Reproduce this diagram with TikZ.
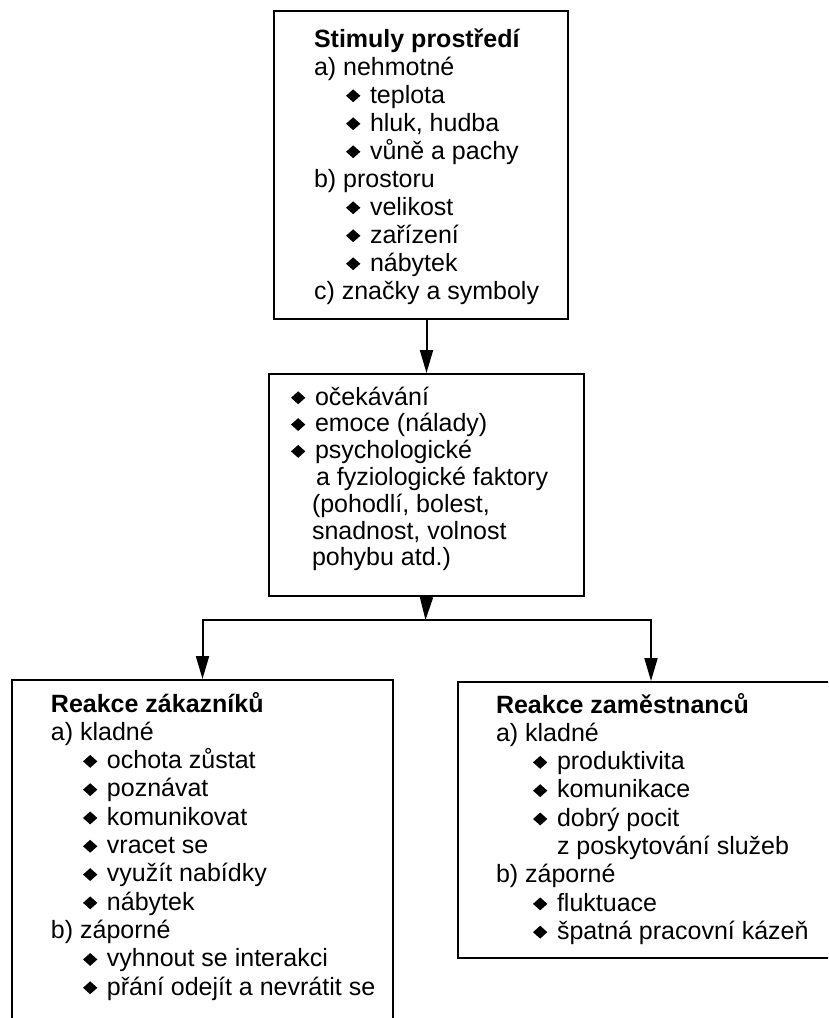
\documentclass[tikz,border=0pt]{standalone}
\usepackage{fontspec}
\setmainfont{Liberation Sans}
\usetikzlibrary{arrows.meta}
\newcommand\dmd{\raisebox{0.8pt}{\scalebox{1.45}[1.3]{\rotatebox{45}{\rule{7pt}{7pt}}}}}
\newcommand\bi[1]{\hspace*{#1}\makebox[24pt][l]{\dmd}}
\newcommand\ind[1]{\hspace*{#1}}
\newcommand\boxsetup[1]{\fontsize{25pt}{#1}\selectfont\lineskiplimit=-100pt\lineskip=0pt\parindent=0pt\raggedright}
\tikzset{
  boxnode/.style={draw, line width=2pt, inner sep=0pt, anchor=north west},
  arr/.style={line width=2pt, -{Triangle[length=23pt,width=13pt]}},
  conn/.style={line width=2pt}
}
\begin{document}
\begin{tikzpicture}[x=1pt,y=-1pt]
\useasboundingbox (0,0) rectangle (828,1018);
\clip (0,0) rectangle (828,1018);
\node[boxnode] (b1) at (273,10) {\begin{minipage}[t][308pt][t]{294pt}\boxsetup{28pt}%
\rule{0pt}{36pt}\ind{40pt}\textbf{Stimuly prostředí}\\
\ind{40pt}a) nehmotné\\
\bi{72pt}teplota\\
\bi{72pt}hluk, hudba\\
\bi{72pt}vůně a pachy\\
\ind{40pt}b) prostoru\\
\bi{72pt}velikost\\
\bi{72pt}zařízení\\
\bi{72pt}nábytek\\
\ind{40pt}c) značky a symboly
\end{minipage}};
\node[boxnode] (b2) at (268,373) {\begin{minipage}[t][222pt][t]{315pt}\boxsetup{26.8pt}%
\rule{0pt}{31pt}\bi{22pt}očekávání\\
\bi{22pt}emoce (nálady)\\
\bi{22pt}psychologické\\
\ind{47pt}a fyziologické faktory\\
\ind{43pt}(pohodlí, bolest,\\
\ind{43pt}snadnost, volnost\\
\ind{43pt}pohybu atd.)
\end{minipage}};
\node[boxnode] (b3) at (11,679) {\begin{minipage}[t][380pt][t]{381pt}\boxsetup{28.3pt}%
\rule{0pt}{32pt}\ind{39pt}\textbf{Reakce zákazníků}\\
\ind{39pt}a) kladné\\
\bi{71pt}ochota zůstat\\
\bi{71pt}poznávat\\
\bi{71pt}komunikovat\\
\bi{71pt}vracet se\\
\bi{71pt}využít nabídky\\
\bi{71pt}nábytek\\
\ind{39pt}b) záporné\\
\bi{71pt}vyhnout se interakci\\
\bi{71pt}přání odejít a nevrátit se
\end{minipage}};
\node[boxnode] (b4) at (457,681) {\begin{minipage}[t][276pt][t]{386pt}\boxsetup{28.3pt}%
\rule{0pt}{31pt}\ind{38pt}\textbf{Reakce zaměstnanců}\\
\ind{38pt}a) kladné\\
\bi{75pt}produktivita\\
\bi{75pt}komunikace\\
\bi{75pt}dobrý pocit\\
\ind{99pt}z poskytování služeb\\
\ind{38pt}b) záporné\\
\bi{75pt}fluktuace\\
\bi{75pt}špatná pracovní kázeň
\end{minipage}};
\coordinate (j) at (425.5,620);
\draw[arr] (b1.south -| b2.north) -- (b2.north);
\draw[arr] (b2.south) -- (j);
\draw[arr] (j) -| (b3.north);
\draw[arr] (j) -| (b4.north);
\end{tikzpicture}
\end{document}
